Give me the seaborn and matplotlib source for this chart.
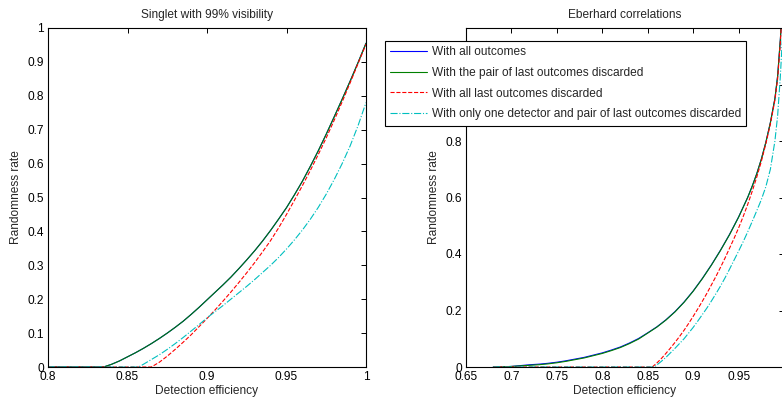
import matplotlib
matplotlib.use("Agg")
import matplotlib.pyplot as plt
import seaborn as sns
from matplotlib.ticker import FuncFormatter

# ---- data ----
# left panel: singlet with 99% visibility
sing_x_all = [0.80, 0.835, 0.84, 0.845, 0.85, 0.855, 0.86, 0.865, 0.87, 0.875,
              0.88, 0.885, 0.89, 0.895, 0.90, 0.905, 0.91, 0.915, 0.92, 0.925,
              0.93, 0.935, 0.94, 0.945, 0.95, 0.955, 0.96, 0.965, 0.97, 0.975,
              0.98, 0.985, 0.99, 0.995, 1.0]
sing_all = [0, 0, 0.008, 0.018, 0.03, 0.042, 0.055, 0.069, 0.084, 0.10,
            0.117, 0.135, 0.155, 0.176, 0.198, 0.22, 0.242, 0.265, 0.29, 0.316,
            0.343, 0.372, 0.403, 0.436, 0.47, 0.508, 0.548, 0.592, 0.638, 0.687,
            0.738, 0.79, 0.843, 0.898, 0.955]
sing_pair = [0, 0, 0.008, 0.018, 0.03, 0.042, 0.055, 0.069, 0.084, 0.10,
             0.117, 0.135, 0.155, 0.176, 0.198, 0.22, 0.242, 0.265, 0.29, 0.316,
             0.343, 0.372, 0.403, 0.436, 0.47, 0.508, 0.548, 0.592, 0.638, 0.687,
             0.738, 0.79, 0.843, 0.898, 0.955]
sing_x_last = [0.80, 0.865, 0.87, 0.875, 0.88, 0.885, 0.89, 0.895, 0.90, 0.905,
               0.91, 0.915, 0.92, 0.925, 0.93, 0.935, 0.94, 0.945, 0.95, 0.955,
               0.96, 0.965, 0.97, 0.975, 0.98, 0.985, 0.99, 0.995, 1.0]
sing_last = [0, 0, 0.014, 0.032, 0.052, 0.073, 0.095, 0.119, 0.143, 0.168,
             0.194, 0.221, 0.249, 0.278, 0.308, 0.34, 0.373, 0.41, 0.45, 0.492,
             0.535, 0.58, 0.627, 0.676, 0.728, 0.782, 0.838, 0.895, 0.952]
sing_x_one = [0.80, 0.857, 0.86, 0.865, 0.87, 0.875, 0.88, 0.885, 0.89, 0.895,
              0.90, 0.905, 0.91, 0.915, 0.92, 0.925, 0.93, 0.935, 0.94, 0.945,
              0.95, 0.955, 0.96, 0.965, 0.97, 0.975, 0.98, 0.985, 0.99, 0.995, 1.0]
sing_one = [0, 0, 0.008, 0.022, 0.036, 0.052, 0.069, 0.087, 0.106, 0.125,
            0.145, 0.163, 0.181, 0.20, 0.219, 0.238, 0.258, 0.279, 0.30, 0.323,
            0.348, 0.375, 0.404, 0.436, 0.471, 0.51, 0.553, 0.60, 0.652, 0.712, 0.78]

# right panel: Eberhard correlations
eb_x_all = [0.68, 0.69, 0.70, 0.71, 0.72, 0.73, 0.74, 0.75, 0.76, 0.77, 0.78,
            0.79, 0.80, 0.81, 0.82, 0.83, 0.84, 0.85, 0.86, 0.87, 0.88, 0.89,
            0.90, 0.91, 0.92, 0.93, 0.94, 0.95, 0.96, 0.965, 0.97, 0.975, 0.98,
            0.985, 0.99, 0.993, 0.996, 0.998, 1.0]
eb_all = [0, 0.0005, 0.002, 0.005, 0.008, 0.010, 0.013, 0.017, 0.022, 0.028, 0.034,
          0.042, 0.050, 0.060, 0.071, 0.085, 0.101, 0.121, 0.142, 0.167, 0.196, 0.23,
          0.269, 0.313, 0.361, 0.413, 0.469, 0.531, 0.60, 0.64, 0.684, 0.735, 0.795,
          0.865, 0.95, 1.03, 1.16, 1.27, 1.40]
eb_pair = [0, 0.0005, 0.002, 0.004, 0.006, 0.008, 0.011, 0.015, 0.020, 0.026, 0.032,
           0.040, 0.048, 0.058, 0.069, 0.083, 0.099, 0.12, 0.141, 0.166, 0.195, 0.229,
           0.268, 0.312, 0.36, 0.412, 0.468, 0.53, 0.60, 0.64, 0.684, 0.735, 0.795,
           0.865, 0.95, 1.03, 1.16, 1.27, 1.40]
eb_x_last = [0.68, 0.855, 0.86, 0.865, 0.87, 0.875, 0.88, 0.885, 0.89, 0.895,
             0.90, 0.905, 0.91, 0.915, 0.92, 0.925, 0.93, 0.935, 0.94, 0.945,
             0.95, 0.955, 0.96, 0.965, 0.97, 0.975, 0.98, 0.985, 0.99, 0.993,
             0.996, 0.998, 1.0]
eb_last = [0, 0, 0.014, 0.03, 0.048, 0.067, 0.087, 0.108, 0.13, 0.154,
           0.179, 0.205, 0.232, 0.26, 0.29, 0.32, 0.352, 0.385, 0.42, 0.455,
           0.492, 0.532, 0.575, 0.622, 0.672, 0.727, 0.79, 0.86, 0.945, 1.02,
           1.15, 1.26, 1.40]
eb_x_one = [0.68, 0.857, 0.86, 0.865, 0.87, 0.875, 0.88, 0.885, 0.89, 0.895,
            0.90, 0.905, 0.91, 0.915, 0.92, 0.925, 0.93, 0.935, 0.94, 0.945,
            0.95, 0.955, 0.96, 0.965, 0.97, 0.975, 0.98, 0.985, 0.99, 0.993,
            0.996, 0.998, 1.0]
eb_one = [0, 0, 0.007, 0.02, 0.034, 0.05, 0.066, 0.083, 0.10, 0.12,
          0.14, 0.162, 0.185, 0.208, 0.233, 0.259, 0.286, 0.315, 0.346, 0.378,
          0.41, 0.443, 0.478, 0.515, 0.553, 0.592, 0.638, 0.70, 0.80, 0.89,
          1.03, 1.15, 1.28]

labels = ["With all outcomes",
          "With the pair of last outcomes discarded",
          "With all last outcomes discarded",
          "With only one detector and pair of last outcomes discarded"]

FS = 8.6
sns.set_theme(style="white")
plt.rcParams["font.family"] = ["Liberation Sans", "DejaVu Sans"]
plt.rcParams["font.size"] = FS

fig = plt.figure(figsize=(7.82, 4.01), dpi=100)
ax1 = fig.add_axes([48 / 782, 1 - 367 / 401, 318 / 782, 339 / 401])
ax2 = fig.add_axes([466 / 782, 1 - 367 / 401, 318 / 782, 339 / 401])

styles = [dict(color=(0, 0, 1), linestyle="-"),
          dict(color=(0, 0.5, 0), linestyle="-"),
          dict(color=(1, 0, 0), linestyle="--", dashes=(6, 4)),
          dict(color=(0, 0.75, 0.75), linestyle="-.", dashes=(6, 2.5, 1, 2.5))]

left_sets = [(sing_x_all, sing_all), (sing_x_all, sing_pair),
             (sing_x_last, sing_last), (sing_x_one, sing_one)]
right_sets = [(eb_x_all, eb_all), (eb_x_all, eb_pair),
              (eb_x_last, eb_last), (eb_x_one, eb_one)]

handles = []
for (x, y), st in zip(left_sets, styles):
    sns.lineplot(x=x, y=y, ax=ax1, lw=0.8, estimator=None, sort=False, **st)
for (x, y), st in zip(right_sets, styles):
    sns.lineplot(x=x, y=y, ax=ax2, lw=0.8, estimator=None, sort=False, **st)
    handles.append(ax2.lines[-1])

fmt = FuncFormatter(lambda v, p: f"{v:g}")

ax1.set_xlim(0.8, 1.0)
ax1.set_ylim(0, 1.0)
ax1.set_xticks([0.8, 0.85, 0.9, 0.95, 1.0])
ax1.set_yticks([i / 10 for i in range(11)])
ax1.set_title("Singlet with 99% visibility", fontsize=FS, pad=7)

ax2.set_xlim(0.65, 1.0)
ax2.set_ylim(0, 1.2)
ax2.set_xticks([0.65, 0.7, 0.75, 0.8, 0.85, 0.9, 0.95, 1.0])
ax2.set_yticks([0, 0.2, 0.4, 0.6, 0.8, 1.0])
ax2.set_title("Eberhard correlations", fontsize=FS, pad=7)

for ax in (ax1, ax2):
    ax.xaxis.set_major_formatter(fmt)
    ax.yaxis.set_major_formatter(fmt)
    ax.tick_params(direction="in", length=3.5, width=0.7, top=True, right=True,
                   labelsize=FS, pad=3, colors="black")
    ax.set_xlabel("Detection efficiency", fontsize=FS, labelpad=1)
    ax.set_ylabel("Randomness rate", fontsize=FS, labelpad=4)
    for s in ax.spines.values():
        s.set_color("black")
        s.set_linewidth(0.8)
    ax.grid(False)

leg = fig.legend(handles, labels, loc="upper left",
                 bbox_to_anchor=(385 / 782, 1 - 41 / 401),
                 fontsize=FS, frameon=True, fancybox=False, shadow=False,
                 handlelength=3.1, handletextpad=0.35, labelspacing=0.72,
                 borderpad=0.45, borderaxespad=0)
leg.get_frame().set_edgecolor("black")
leg.get_frame().set_linewidth(0.8)
leg.get_frame().set_alpha(1)

fig.savefig("out.png", dpi=100)
